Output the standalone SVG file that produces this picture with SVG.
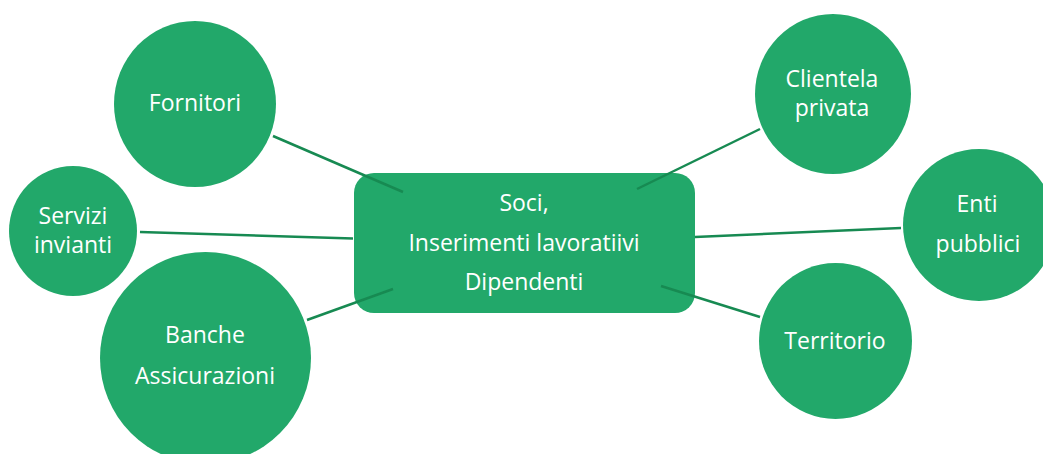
<svg xmlns="http://www.w3.org/2000/svg" width="1043" height="454" viewBox="0 0 1043 454">
<style>
.n{fill:#22A86A}
.t{font-family:"Open Sans","Noto Sans",sans-serif;font-size:23px;fill:#ffffff;text-anchor:middle}
.c line{stroke:#178A52;stroke-width:2.5;stroke-linecap:butt}
</style>
<rect width="1043" height="454" fill="#ffffff"/>
<g id="center">
<rect class="n" x="354" y="173" width="341" height="140" rx="20" ry="20"/>
<text class="t" x="524" y="211">Soci,</text>
<text class="t" x="524" y="251">Inserimenti lavoratiivi</text>
<text class="t" x="524" y="290">Dipendenti</text>
</g>
<g class="c" id="connectors">
<line x1="273" y1="136" x2="403" y2="192"/>
<line x1="140" y1="232" x2="353" y2="238.5"/>
<line x1="307" y1="320" x2="393" y2="289"/>
<line x1="637" y1="189" x2="760" y2="129"/>
<line x1="695" y1="237" x2="901" y2="228"/>
<line x1="661" y1="286" x2="760" y2="317"/>
</g>
<g id="fornitori">
<ellipse class="n" cx="195" cy="104" rx="81" ry="83"/>
<text class="t" x="195" y="111">Fornitori</text>
</g>
<g id="servizi">
<ellipse class="n" cx="73" cy="231" rx="64" ry="65"/>
<text class="t" x="73" y="224">Servizi</text>
<text class="t" x="73" y="253">invianti</text>
</g>
<g id="banche">
<ellipse class="n" cx="205.5" cy="358" rx="105.5" ry="106"/>
<text class="t" x="205" y="343">Banche</text>
<text class="t" x="205" y="384">Assicurazioni</text>
</g>
<g id="clientela">
<ellipse class="n" cx="833" cy="94" rx="78" ry="80"/>
<text class="t" x="832" y="87">Clientela</text>
<text class="t" x="832" y="116">privata</text>
</g>
<g id="enti">
<ellipse class="n" cx="979" cy="225" rx="76" ry="76"/>
<text class="t" x="977" y="212">Enti</text>
<text class="t" x="978" y="252">pubblici</text>
</g>
<g id="territorio">
<ellipse class="n" cx="835.5" cy="341" rx="76.5" ry="78"/>
<text class="t" x="835" y="349">Territorio</text>
</g>
</svg>
